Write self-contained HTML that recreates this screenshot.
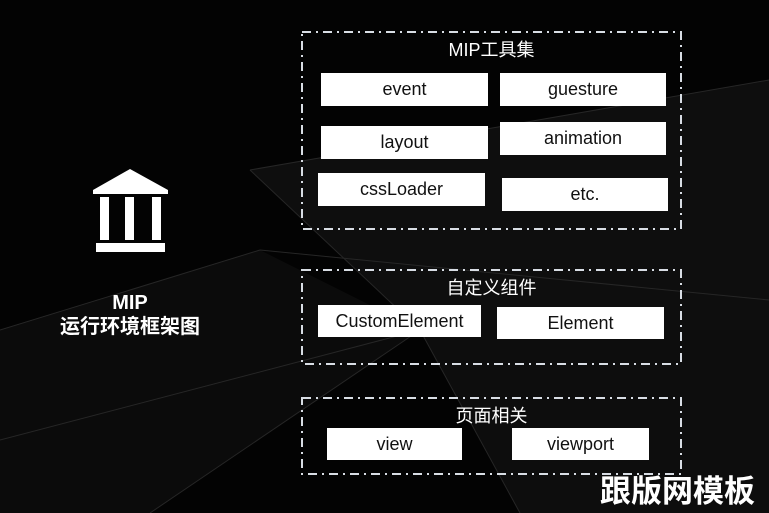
<!DOCTYPE html>
<html><head><meta charset="utf-8"><style>
html,body{margin:0;padding:0;}
body{width:769px;height:513px;position:relative;overflow:hidden;background:#030303;font-family:"Liberation Sans","Noto Sans CJK SC",sans-serif;}
.t{position:absolute;color:#fff;font-size:18px;text-align:center;}
.b{position:absolute;background:#fff;color:#111;font-size:18px;display:flex;align-items:center;justify-content:center;}
</style></head><body>
<svg width="769" height="513" style="position:absolute;left:0;top:0">
<polygon points="250,170 769,80 769,330 420,330" fill="#0e0e0e"/>
<polygon points="0,330 260,250 420,330 150,513 0,513" fill="#0b0b0b"/>
<polygon points="420,330 769,330 769,513 520,513" fill="#0d0d0d"/>
<g stroke="#262626" stroke-width="1" fill="none">
<line x1="250" y1="170" x2="769" y2="80"/>
<line x1="250" y1="170" x2="420" y2="330"/>
<line x1="0" y1="330" x2="260" y2="250"/>
<line x1="260" y1="250" x2="769" y2="300"/>
<line x1="420" y1="330" x2="150" y2="513"/>
<line x1="420" y1="330" x2="520" y2="513"/>
<line x1="0" y1="440" x2="420" y2="330"/>
</g>
<g fill="none" stroke="#d8dde4" stroke-width="2" stroke-dasharray="9,5,2,5">
<rect x="302" y="32" width="379" height="197"/>
<rect x="302" y="270" width="379" height="94"/>
<rect x="302" y="398" width="379" height="76"/>
</g>
<polygon points="130,169 168,190 93,190" fill="#fff"/>
<rect x="93" y="190" width="75" height="4" fill="#fff"/>
<rect x="100" y="197" width="9" height="43" fill="#fff"/>
<rect x="125" y="197" width="9" height="43" fill="#fff"/>
<rect x="152" y="197" width="9" height="43" fill="#fff"/>
<rect x="96" y="243" width="69" height="9" fill="#fff"/>
</svg>
<div class="t" style="left:40px;top:291px;width:180px;font-weight:bold;font-size:20px;line-height:24px">MIP<br>运行环境框架图</div>

<div class="t" style="left:301px;top:36px;width:381px;">MIP工具集</div>
<div class="b" style="left:321px;top:73px;width:167px;height:33px">event</div>
<div class="b" style="left:500px;top:73px;width:166px;height:33px">guesture</div>
<div class="b" style="left:321px;top:126px;width:167px;height:33px">layout</div>
<div class="b" style="left:500px;top:122px;width:166px;height:33px">animation</div>
<div class="b" style="left:318px;top:173px;width:167px;height:33px">cssLoader</div>
<div class="b" style="left:502px;top:178px;width:166px;height:33px">etc.</div>

<div class="t" style="left:301px;top:274px;width:381px;">自定义组件</div>
<div class="b" style="left:318px;top:305px;width:163px;height:32px">CustomElement</div>
<div class="b" style="left:497px;top:307px;width:167px;height:32px">Element</div>

<div class="t" style="left:301px;top:402px;width:381px;">页面相关</div>
<div class="b" style="left:327px;top:428px;width:135px;height:32px">view</div>
<div class="b" style="left:512px;top:428px;width:137px;height:32px">viewport</div>

<div style="position:absolute;left:600px;top:470px;width:160px;color:#fff;font-weight:bold;font-size:31px;line-height:38px;font-family:'Noto Sans CJK SC',sans-serif;">跟版网模板</div>
</body></html>
